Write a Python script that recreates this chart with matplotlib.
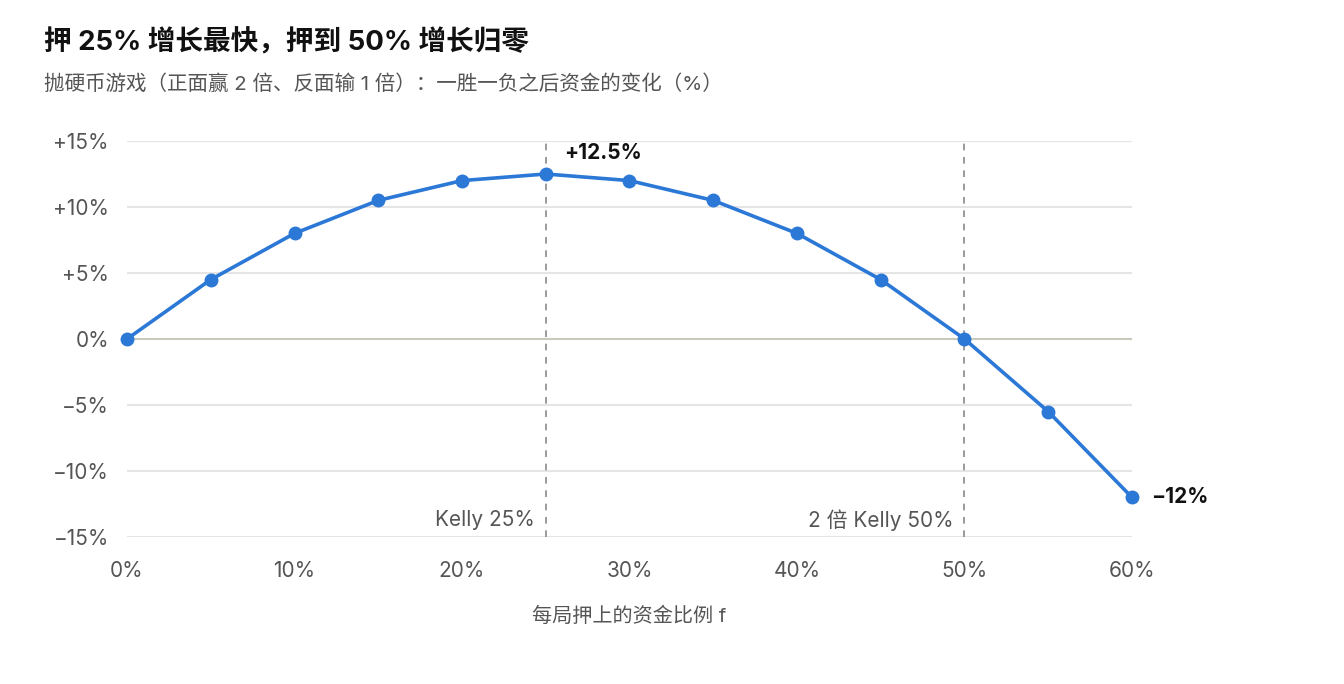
import matplotlib
matplotlib.use("Agg")
import matplotlib.pyplot as plt

plt.rcParams['font.family'] = ['Inter', 'Noto Sans CJK SC', 'DejaVu Sans']
plt.rcParams['axes.unicode_minus'] = True

# Data
bet_fraction = [0.00, 0.05, 0.10, 0.15, 0.20, 0.25, 0.30, 0.35, 0.40, 0.45, 0.50, 0.55, 0.60]
growth_change = [0.000, 0.045, 0.080, 0.105, 0.120, 0.125, 0.120, 0.105, 0.080, 0.045, 0.000, -0.055, -0.120]
x_ticks = [0.0, 0.1, 0.2, 0.3, 0.4, 0.5, 0.6]
x_tick_labels = ["0%", "10%", "20%", "30%", "40%", "50%", "60%"]
y_ticks = [-0.15, -0.10, -0.05, 0.0, 0.05, 0.10, 0.15]
y_tick_labels = ["−15%", "−10%", "−5%", "0%", "+5%", "+10%", "+15%"]
ref_lines = [0.25, 0.50]
ref_labels = ["Kelly 25%", "2 倍 Kelly 50%"]
peak_label = "+12.5%"
end_label = "−12%"

title = "押 25% 增长最快，押到 50% 增长归零"
subtitle = "抛硬币游戏（正面赢 2 倍、反面输 1 倍）：一胜一负之后资金的变化（%）"
xlabel = "每局押上的资金比例 f"

blue = "#2b78d6"
grid_c = "#e5e5e5"
text_gray = "#555555"

fig = plt.figure(figsize=(13.44, 6.84), dpi=100)
ax = fig.add_axes([127/1344, 147/684, (1132-127)/1344, (537-141)/684])

ax.set_xlim(0, 0.6)
ax.set_ylim(-0.15, 0.15)

for yv in y_ticks:
    if yv == 0:
        ax.axhline(yv, color="#c9c9bd", lw=1.5, zorder=1)
    else:
        ax.axhline(yv, color=grid_c, lw=1.5, zorder=0)

for xv in ref_lines:
    ax.axvline(xv, color="#8a8a8a", lw=1.2, ls=(0, (4, 4)), zorder=1)

ax.plot(bet_fraction, growth_change, color=blue, lw=2.6, marker="o",
        markersize=9, zorder=3, clip_on=False)

for s in ax.spines.values():
    s.set_visible(False)

ax.set_xticks(x_ticks)
ax.set_xticklabels(x_tick_labels)
ax.set_yticks(y_ticks)
ax.set_yticklabels(y_tick_labels)
ax.tick_params(axis="both", length=0, labelsize=15, labelcolor=text_gray)
ax.tick_params(axis="x", pad=17)
ax.tick_params(axis="y", pad=13)
ax.set_xlabel(xlabel, fontsize=14.5, color=text_gray, labelpad=19)

# annotations
peak_i = growth_change.index(max(growth_change))
ax.annotate(peak_label, (bet_fraction[peak_i], growth_change[peak_i]),
            xytext=(13, 15), textcoords="offset points", fontsize=15,
            fontweight="bold", color="#111111", ha="left", va="center")
ax.annotate(end_label, (bet_fraction[-1], growth_change[-1]),
            xytext=(14, 0), textcoords="offset points", fontsize=15,
            fontweight="bold", color="#111111", ha="left", va="center")
for xv, lab in zip(ref_lines, ref_labels):
    ax.annotate(lab, (xv, -0.15), xytext=(-8, 12), textcoords="offset points",
                fontsize=15, color=text_gray, ha="right", va="center")

fig.text(44/1344, 1 - 43/684, title, fontsize=19.9, fontweight="bold",
         color="#111111", ha="left", va="center")
fig.text(44/1344, 1 - 84/684, subtitle, fontsize=14.8, color=text_gray,
         ha="left", va="center")

fig.savefig("out.png", dpi=100)
